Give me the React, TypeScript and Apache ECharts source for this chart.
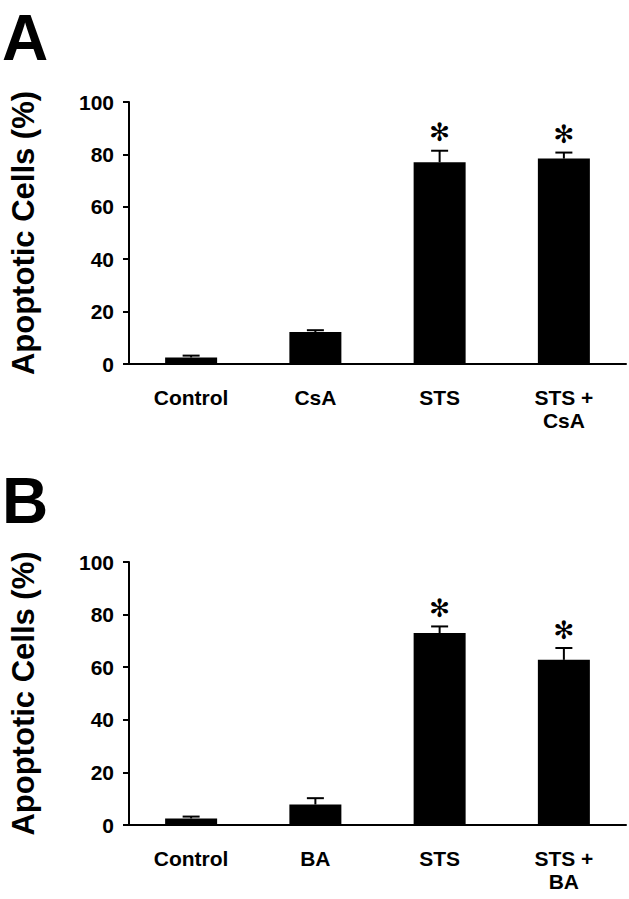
import React, { useEffect, useRef } from "react";
import * as echarts from "echarts";

const categoriesA = ["Control", "CsA", "STS", "STS +\nCsA"];
const meansA = [2.5, 12.2, 77.0, 78.4];
const errA = [0.7, 0.7, 4.4, 2.3];
const sigA = [0, 0, 1, 1];

const categoriesB = ["Control", "BA", "STS", "STS +\nBA"];
const meansB = [2.5, 7.8, 73.0, 62.8];
const errB = [0.7, 2.4, 2.5, 4.5];
const sigB = [0, 0, 1, 1];

const yTicks = { min: 0, max: 100, interval: 20 };
const yTitle = "Apoptotic Cells (%)";
const panelLetters = ["A", "B"];

const FONT = "'Liberation Sans', Arial, Helvetica, sans-serif";

function errRender(params: any, api: any) {
  const x = api.value(0);
  const m = api.value(1);
  const e = api.value(2);
  const s = api.value(3);
  const base = api.coord([x, m]);
  const top = api.coord([x, m + e]);
  const children: any[] = [
    {
      type: "line",
      shape: { x1: base[0], y1: base[1], x2: top[0], y2: top[1] },
      style: { stroke: "#000", lineWidth: 2 },
    },
    {
      type: "line",
      shape: { x1: top[0] - 8.5, y1: top[1], x2: top[0] + 8.5, y2: top[1] },
      style: { stroke: "#000", lineWidth: 2 },
    },
  ];
  if (s) {
    children.push({
      type: "text",
      x: top[0],
      y: top[1] - 18,
      style: {
        text: "\u273B",
        fontSize: 25,
        fontFamily: "'DejaVu Sans'",
        fill: "#000",
        align: "center",
        verticalAlign: "middle",
      },
    });
  }
  return { type: "group", children };
}

export default function App() {
  const ref = useRef<HTMLDivElement>(null);
  useEffect(() => {
    if (!ref.current) return;
    const chart = echarts.init(ref.current, undefined, { renderer: "svg" });
    const grids = [
      { left: 112, right: 3, top: 102, height: 262 },
      { left: 112, right: 3, top: 562, height: 263 },
    ];
    const cats = [categoriesA, categoriesB];
    const means = [meansA, meansB];
    const errs = [errA, errB];
    const sigs = [sigA, sigB];
    const xAxis = cats.map((c, i) => ({
      type: "category",
      gridIndex: i,
      data: c,
      axisLine: { lineStyle: { color: "#000", width: 2 } },
      axisTick: { show: false },
      axisLabel: {
        color: "#000",
        fontSize: 21,
        fontWeight: "bold",
        fontFamily: FONT,
        margin: 22,
        lineHeight: 23,
        verticalAlign: "top",
        interval: 0,
      },
    }));
    const yAxis = cats.map((_, i) => ({
      type: "value",
      gridIndex: i,
      min: yTicks.min,
      max: yTicks.max,
      interval: yTicks.interval,
      name: yTitle,
      nameLocation: "middle",
      nameRotate: 90,
      nameGap: 90,
      nameTextStyle: {
        color: "#000",
        fontSize: 31,
        fontWeight: "bold",
        fontFamily: FONT,
      },
      splitLine: { show: false },
      axisLine: { show: true, lineStyle: { color: "#000", width: 2 } },
      axisTick: { show: true, length: 6, lineStyle: { color: "#000", width: 2 } },
      axisLabel: {
        color: "#000",
        fontSize: 21,
        fontWeight: "bold",
        fontFamily: FONT,
        margin: 15,
      },
    }));
    const series: any[] = [];
    cats.forEach((_, i) => {
      series.push({
        type: "bar",
        xAxisIndex: i,
        yAxisIndex: i,
        data: means[i],
        barWidth: 52,
        itemStyle: { color: "#000" },
        z: 2,
      });
      series.push({
        type: "custom",
        xAxisIndex: i,
        yAxisIndex: i,
        renderItem: errRender,
        encode: { x: 0, y: 1 },
        data: means[i].map((m, j) => [j, m, errs[i][j], sigs[i][j]]),
        z: 3,
        clip: false,
      });
    });
    chart.setOption({
      animation: false,
      backgroundColor: "#fff",
      grid: grids,
      xAxis,
      yAxis,
      series,
      graphic: panelLetters.map((l, i) => ({
        type: "text",
        left: 2,
        top: i === 0 ? 6 : 469,
        style: {
          text: l,
          fontSize: 64,
          fontWeight: "bold",
          fontFamily: FONT,
          fill: "#000",
        },
      })),
    });
    return () => chart.dispose();
  }, []);
  return (
    <div
      ref={ref}
      style={{ position: "fixed", left: 0, top: 0, width: 629, height: 899, background: "#fff" }}
    />
  );
}
